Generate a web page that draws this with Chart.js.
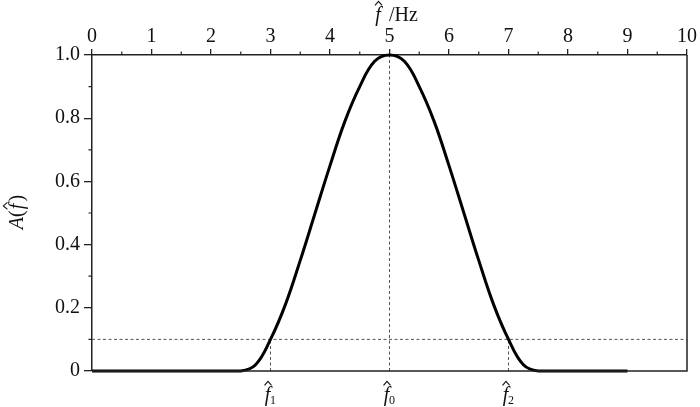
<!DOCTYPE html>
<html>
<head>
<meta charset="utf-8">
<script src="https://cdn.jsdelivr.net/npm/chart.js@4"></script>
<style>
  html, body { margin: 0; padding: 0; background: #fff; }
  #box { width: 700px; height: 407px; }
</style>
</head>
<body>
<div id="box"><canvas id="spec"></canvas></div>
<script>
// frequency (Hz) and amplitude
const freq = [0, 1, 2, 2.5, 2.75, 3, 3.25, 3.5, 3.75, 4, 4.25, 4.5, 4.75, 5,
              5.25, 5.5, 5.75, 6, 6.25, 6.5, 6.75, 7, 7.25, 7.5, 8, 9];
const amp = [0, 0, 0, 0, 0.02, 0.1, 0.21, 0.35, 0.5, 0.65, 0.79, 0.9, 0.98, 1.0,
             0.98, 0.9, 0.79, 0.65, 0.5, 0.35, 0.21, 0.1, 0.02, 0, 0, 0];

// reference marks: threshold and the three marked frequencies
const level = 0.1;
const markFreq = [3, 5, 7];
const markTop = [0.1, 1.0, 0.1];
const markSub = ['1', '0', '2'];

const xTicks = [0, 1, 2, 3, 4, 5, 6, 7, 8, 9, 10];
const yTicks = [0, 0.2, 0.4, 0.6, 0.8, 1.0];

const ink = '#222';
const serif = '"Liberation Serif", "DejaVu Serif", serif';

const curve = freq.map((f, i) => ({ x: f, y: amp[i] }));
const dashStyle = { borderColor: '#555', borderWidth: 1, borderDash: [3, 2.5], pointRadius: 0, showLine: true, order: 2 };

const datasets = [
  { data: curve, borderColor: '#000', borderWidth: 3, pointRadius: 0, showLine: true,
    tension: 0.4, clip: false, order: 1 },
  Object.assign({ data: [{ x: 0, y: level }, { x: 10, y: level }] }, dashStyle)
];
markFreq.forEach((f, i) => {
  datasets.push(Object.assign({ data: [{ x: f, y: 0 }, { x: f, y: markTop[i] }] }, dashStyle));
});

// small f with a hat, optional subscript
function fHat(ctx, x, y, size, sub) {
  ctx.save();
  ctx.fillStyle = '#111';
  ctx.font = 'italic ' + size + 'px ' + serif;
  ctx.textAlign = 'center';
  ctx.textBaseline = 'alphabetic';
  ctx.fillText('f', x, y);
  ctx.strokeStyle = '#111';
  ctx.lineWidth = 1.1;
  ctx.beginPath();
  const hy = y - size * 0.98;
  ctx.moveTo(x - 3, hy + 4);
  ctx.lineTo(x + 0.5, hy);
  ctx.lineTo(x + 4, hy + 4);
  ctx.stroke();
  if (sub) {
    ctx.font = Math.round(size * 0.62) + 'px ' + serif;
    ctx.textAlign = 'left';
    ctx.fillText(sub, x + 2.5, y + 3);
  }
  ctx.restore();
}

const extras = {
  id: 'extras',
  afterDraw(chart) {
    const ctx = chart.ctx;
    const a = chart.chartArea;
    const xs = chart.scales.x, ys = chart.scales.y;
    ctx.save();
    ctx.strokeStyle = ink;
    ctx.lineWidth = 1.5;
    // right and bottom frame
    ctx.beginPath();
    ctx.moveTo(a.right, a.top);
    ctx.lineTo(a.right, a.bottom);
    ctx.lineTo(a.left, a.bottom);
    ctx.stroke();
    // minor ticks
    ctx.lineWidth = 1.2;
    ctx.beginPath();
    for (let v = 0.5; v < 10; v += 1) {
      const px = xs.getPixelForValue(v);
      ctx.moveTo(px, a.top);
      ctx.lineTo(px, a.top - 3.5);
    }
    for (let v = 0.1; v < 1; v += 0.2) {
      const py = ys.getPixelForValue(v);
      ctx.moveTo(a.left, py);
      ctx.lineTo(a.left - 3.5, py);
    }
    ctx.stroke();
    ctx.restore();

    // labels under the marked frequencies
    markFreq.forEach((f, i) => {
      fHat(ctx, xs.getPixelForValue(f) - 3, 401, 20, markSub[i]);
    });

    // top axis title
    fHat(ctx, 378, 21, 20, '');
    ctx.save();
    ctx.fillStyle = '#111';
    ctx.font = '20px ' + serif;
    ctx.textAlign = 'left';
    ctx.fillText('/Hz', 389, 21);
    ctx.restore();

    // y axis title A(f^)
    ctx.save();
    ctx.translate(23, 212);
    ctx.rotate(-Math.PI / 2);
    ctx.fillStyle = '#111';
    ctx.textBaseline = 'alphabetic';
    ctx.textAlign = 'left';
    ctx.font = 'italic 20px ' + serif;
    const wA = ctx.measureText('A').width;
    ctx.font = '20px ' + serif;
    const wP = ctx.measureText('(').width;
    const total = wA + wP * 2 + 9;
    let cx = -total / 2;
    ctx.font = 'italic 20px ' + serif;
    ctx.fillText('A', cx, 0);
    cx += wA;
    ctx.font = '20px ' + serif;
    ctx.fillText('(', cx, 0);
    cx += wP;
    fHat(ctx, cx + 4, 0, 20, '');
    cx += 9;
    ctx.font = '20px ' + serif;
    ctx.fillText(')', cx, 0);
    ctx.restore();
  }
};

new Chart(document.getElementById('spec'), {
  type: 'scatter',
  data: { datasets: datasets },
  options: {
    responsive: true,
    maintainAspectRatio: false,
    animation: false,
    layout: { padding: { left: 0, right: 13, top: 0, bottom: 36 } },
    plugins: { legend: { display: false }, tooltip: { enabled: false } },
    scales: {
      x: {
        type: 'linear',
        position: 'top',
        min: 0,
        max: 10,
        afterBuildTicks: s => { s.ticks = xTicks.map(v => ({ value: v })); },
        afterFit: s => { s.height = 55; },
        ticks: { color: '#111', font: { family: serif, size: 20 }, padding: 0, maxRotation: 0 },
        grid: { drawOnChartArea: false, color: ink, tickLength: 6, lineWidth: 1.3 },
        border: { color: ink, width: 1.5 }
      },
      y: {
        type: 'linear',
        min: 0,
        max: 1,
        afterBuildTicks: s => { s.ticks = yTicks.map(v => ({ value: v })); },
        afterFit: s => { s.width = 92; },
        ticks: {
          color: '#111', font: { family: serif, size: 20 }, padding: 4,
          callback: v => (v === 0 ? '0' : v.toFixed(1))
        },
        grid: { drawOnChartArea: false, color: ink, tickLength: 8, lineWidth: 1.3 },
        border: { color: ink, width: 1.5 }
      }
    }
  },
  plugins: [extras]
});
</script>
</body>
</html>
